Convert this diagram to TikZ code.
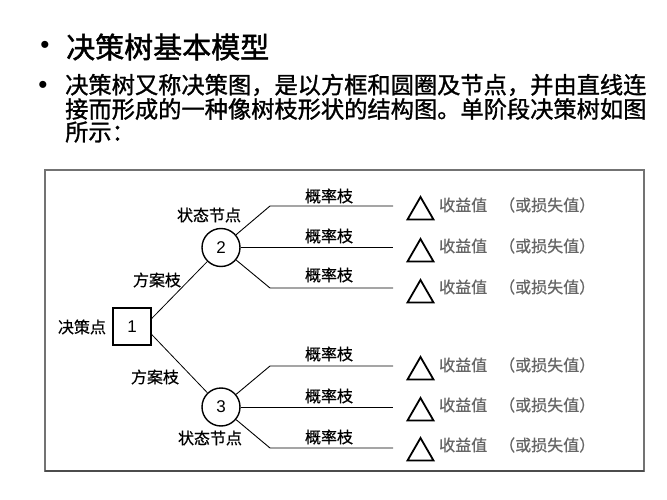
\documentclass[tikz,border=0pt]{standalone}
\usepackage{fontspec}
\newfontfamily\cjk[FakeBold=0.6]{Noto Sans CJK SC}
\newfontfamily\cjkb[FakeBold=1.5]{Noto Sans CJK SC}
\newfontfamily\cjkp[FakeBold=1.2]{Noto Sans CJK SC}
\newfontfamily\bulfont{Liberation Sans}
\usetikzlibrary{shapes.geometric}
\begin{document}
\begin{tikzpicture}[x=1pt,y=-1pt,
  lbl/.style={font=\cjk\fontsize{16pt}{16pt}\selectfont, inner sep=0pt},
  val/.style={font=\cjk\fontsize{16pt}{16pt}\selectfont, text=black!60, inner sep=0pt, anchor=west},
  circ/.style={circle, draw, line width=1.4pt, minimum size=38pt, inner sep=0pt, font=\bulfont\fontsize{17pt}{17pt}\selectfont},
  decbox/.style={draw, line width=1.4pt, minimum width=38pt, minimum height=37pt, inner sep=0pt, font=\bulfont\fontsize{17pt}{17pt}\selectfont},
  tri/.style={regular polygon, regular polygon sides=3, draw, line width=1.8pt, minimum size=30pt, inner sep=0pt},
  br/.style={line width=0.9pt},
  alt/.style={line width=0.8pt},
  bul/.style={font=\bulfont\fontsize{26pt}{26pt}\selectfont, inner sep=0pt},
  ttl/.style={font=\cjkb\fontsize{29pt}{29pt}\selectfont, inner sep=0pt, anchor=west},
  par/.style={font=\cjkp\fontsize{23.25pt}{23.25pt}\selectfont, inner sep=0pt, anchor=west}
]
\useasboundingbox[fill=white] (0,0) rectangle (667,500);

% heading
\node[bul] (b1) at (45,47) {\textbullet};
\node[ttl] (title) at (66,47) {决策树基本模型};
\node[bul] (b2) at (43,87) {\textbullet};
\node[par] (p1) at (65,85) {决策树又称决策图，是以方框和圆圈及节点，并由直线连};
\node[par] (p2) at (65,109) {接而形成的一种像树枝形状的结构图。单阶段决策树如图};
\node[par] (p3) at (65,132) {所示：};

% frame
\draw[black!55, line width=1.2pt] (45,170) rectangle (644,471);
\draw[black!70, line width=2pt] (45,471) -- (644,471);

% decision node and state nodes
\node[decbox] (d) at (132,326.5) {1};
\node[circ] (c2) at (221,247.5) {2};
\node[circ] (c3) at (221,407) {3};

\draw[alt] ([yshift=8pt]d.east) -- (c2);
\draw[alt] ([yshift=-8pt]d.east) -- (c3);

% knees and ends
\coordinate (k1) at (270,206);   \coordinate (e1) at (393,206);
\coordinate (e2) at (393,247.5);
\coordinate (k3) at (270,288);   \coordinate (e3) at (393,288);
\coordinate (k4) at (270,366);   \coordinate (e4) at (393,366);
\coordinate (e5) at (393,407);
\coordinate (k6) at (270,448);   \coordinate (e6) at (393,448);

\draw[br] (c2) -- (k1) -- (e1);
\draw[br] (c2.east) -- (e2);
\draw[br] (c2) -- (k3) -- (e3);
\draw[br] (c3) -- (k4) -- (e4);
\draw[br] (c3.east) -- (e5);
\draw[br] (c3) -- (k6) -- (e6);

% labels
\node[lbl] (l1) at (82,327) {决策点};
\node[lbl] (l2) at (157,280) {方案枝};
\node[lbl] (l3) at (155,377) {方案枝};
\node[lbl] (l4) at (209,215) {状态节点};
\node[lbl] (l5) at (210,438) {状态节点};
\node[lbl] (p1a) at (329,196) {概率枝};
\node[lbl] (p2a) at (329,236) {概率枝};
\node[lbl] (p3a) at (329,275) {概率枝};
\node[lbl] (p4a) at (329,354) {概率枝};
\node[lbl] (p5a) at (329,396) {概率枝};
\node[lbl] (p6a) at (329,437) {概率枝};

% terminal triangles and values
\foreach \i/\ty/\vy in {1/212/205, 2/254/246, 3/295/287, 4/372/365, 5/413/405, 6/453/445}{
  \node[tri] (t\i) at (420.5,\ty) {};
  \node[val] (v\i) at (439,\vy) {收益值};
  \node[val] (w\i) at (499,\vy) {（或损失值）};
}
\end{tikzpicture}
\end{document}
